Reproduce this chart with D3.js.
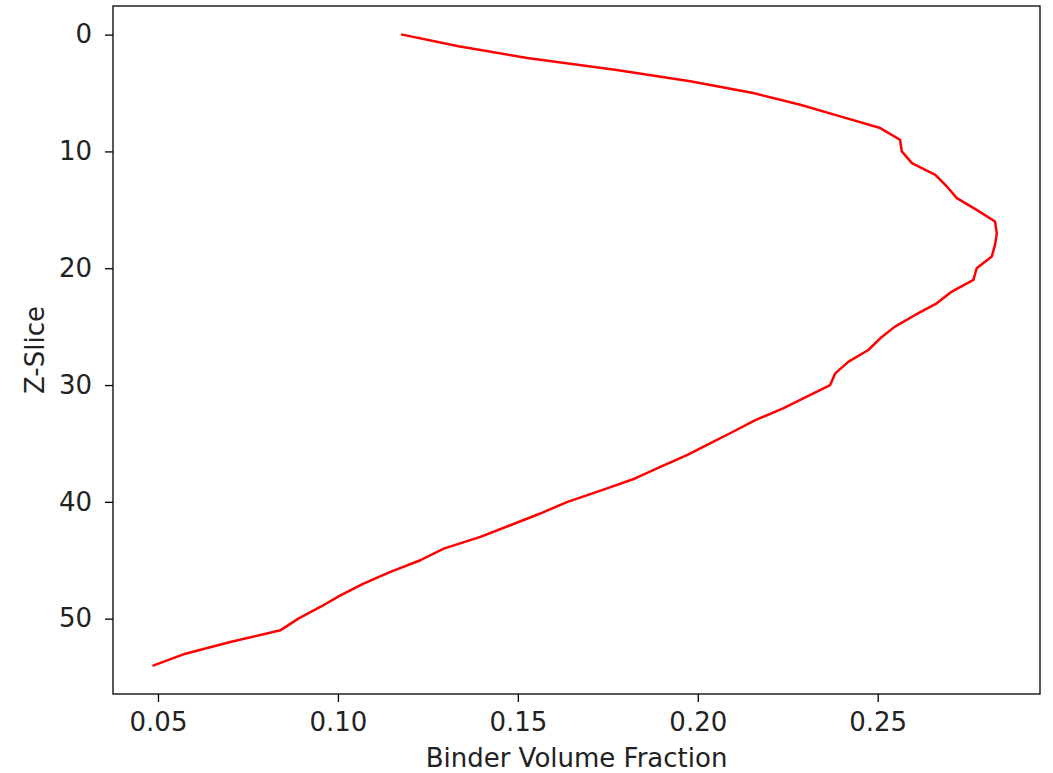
<!DOCTYPE html>
<html>
<head>
<meta charset="utf-8">
<script src="https://cdn.jsdelivr.net/npm/d3@7"></script>
<style>
  html, body { margin: 0; padding: 0; background: #ffffff; }
  svg { display: block; font-family: "DejaVu Sans", sans-serif; }
</style>
</head>
<body>
<svg id="chart" width="1053" height="773"></svg>
<script>
// Z-slice index (y axis, inverted)
const zSlices = d3.range(0, 55);
// Binder volume fraction for each slice (x axis)
const binderFraction = [
  0.1179, 0.1335, 0.1526, 0.1770, 0.1979, 0.2154, 0.2285, 0.2396, 0.2507, 0.2562,
  0.2567, 0.2595, 0.2660, 0.2692, 0.2720, 0.2775, 0.2826, 0.2831, 0.2826, 0.2817,
  0.2775, 0.2766, 0.2706, 0.2664, 0.2604, 0.2548, 0.2507, 0.2474, 0.2419, 0.2382,
  0.2368, 0.2303, 0.2237, 0.2160, 0.2098, 0.2034, 0.1970, 0.1896, 0.1826, 0.1734,
  0.1638, 0.1562, 0.1479, 0.1396, 0.1294, 0.1229, 0.1146, 0.1071, 0.1007, 0.0951,
  0.0890, 0.0840, 0.0701, 0.0576, 0.0488
];
const xTicks = [0.05, 0.10, 0.15, 0.20, 0.25];
const yTicks = [0, 10, 20, 30, 40, 50];
const xLabel = "Binder Volume Fraction";
const yLabel = "Z-Slice";

const data = zSlices.map((z, i) => ({ z: z, v: binderFraction[i] }));

const plot = { left: 113, right: 1040, top: 6, bottom: 694 };
const svg = d3.select("#chart");

const x = d3.scaleLinear().domain([0.0375, 0.2951]).range([plot.left, plot.right]);
const y = d3.scaleLinear().domain([-2.45, 56.45]).range([plot.top, plot.bottom]);

const fontSize = 26;

// Line
svg.append("path")
  .datum(data)
  .attr("fill", "none")
  .attr("stroke", "#ff0000")
  .attr("stroke-width", 2.5)
  .attr("stroke-linejoin", "round")
  .attr("stroke-linecap", "square")
  .attr("d", d3.line().x(d => x(d.v)).y(d => y(d.z)));

// X axis
const xAxis = svg.append("g")
  .attr("transform", `translate(0,${plot.bottom})`)
  .call(d3.axisBottom(x).tickValues(xTicks).tickFormat(d3.format(".2f")).tickSize(8).tickPadding(11).tickSizeOuter(0));
xAxis.select(".domain").remove();
xAxis.selectAll(".tick line").attr("stroke", "#000").attr("stroke-width", 1.3);
xAxis.selectAll(".tick text").attr("fill", "#222").style("font-size", fontSize + "px").style("font-family", "DejaVu Sans");

// Y axis
const yAxis = svg.append("g")
  .attr("transform", `translate(${plot.left},0)`)
  .call(d3.axisLeft(y).tickValues(yTicks).tickFormat(d3.format("d")).tickSize(8).tickPadding(13).tickSizeOuter(0));
yAxis.select(".domain").remove();
yAxis.selectAll(".tick line").attr("stroke", "#000").attr("stroke-width", 1.3);
yAxis.selectAll(".tick text").attr("fill", "#222").style("font-size", fontSize + "px").style("font-family", "DejaVu Sans");

// Frame
svg.append("rect")
  .attr("x", plot.left).attr("y", plot.top)
  .attr("width", plot.right - plot.left).attr("height", plot.bottom - plot.top)
  .attr("fill", "none").attr("stroke", "#000").attr("stroke-width", 1.3);

// Axis labels
svg.append("text")
  .attr("x", (plot.left + plot.right) / 2)
  .attr("y", 767)
  .attr("text-anchor", "middle")
  .attr("fill", "#222")
  .style("font-size", fontSize + "px")
  .text(xLabel);

svg.append("text")
  .attr("transform", `translate(44,${(plot.top + plot.bottom) / 2}) rotate(-90)`)
  .attr("text-anchor", "middle")
  .attr("fill", "#222")
  .style("font-size", fontSize + "px")
  .text(yLabel);
</script>
</body>
</html>
